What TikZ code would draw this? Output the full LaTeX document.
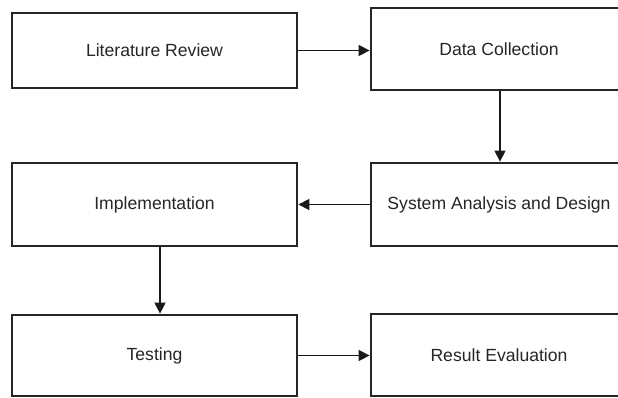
\documentclass[tikz,border=0pt]{standalone}
\usepackage{fontspec}
\setmainfont{Liberation Sans}
\usetikzlibrary{arrows.meta}
\tikzset{
  stagebox/.style={draw=black!85, line width=2.8pt, fill=white, rectangle, inner sep=0pt,
    text=black!85, font=\fontsize{17.6}{20}\selectfont},
  flow/.style={draw=black!90, line width=1.4pt, -{Triangle[length=11pt,width=11pt]}}
}
\begin{document}
\begin{tikzpicture}[x=1pt,y=-1pt]
\useasboundingbox (0,0) rectangle (618,397);
\begin{scope}
\clip (0,0) rectangle (618,397);
\node[stagebox, minimum width=285pt, minimum height=75pt] (lit) at (154.5,50.5) {Literature Review};
\node[stagebox, minimum width=256pt, minimum height=82pt] (data) at (499,49) {Data Collection};
\node[stagebox, minimum width=256pt, minimum height=83pt] (sys) at (499,204.5) {System Analysis and Design};
\node[stagebox, minimum width=285pt, minimum height=83pt] (impl) at (154.5,204.5) {Implementation};
\node[stagebox, minimum width=285pt, minimum height=81pt] (test) at (154.5,355.5) {Testing};
\node[stagebox, minimum width=256pt, minimum height=82pt] (res) at (499,355) {Result Evaluation};
\draw[flow] (lit.east) -- (lit.east -| data.west);
\draw[flow] ([xshift=1pt]data.south) -- ([xshift=1pt]sys.north);
\draw[flow] (sys.west) -- (sys.west -| impl.east);
\draw[flow] ([xshift=5.5pt]impl.south) -- ([xshift=5.5pt]test.north);
\draw[flow] (test.east) -- (test.east -| res.west);
\end{scope}
\end{tikzpicture}
\end{document}
